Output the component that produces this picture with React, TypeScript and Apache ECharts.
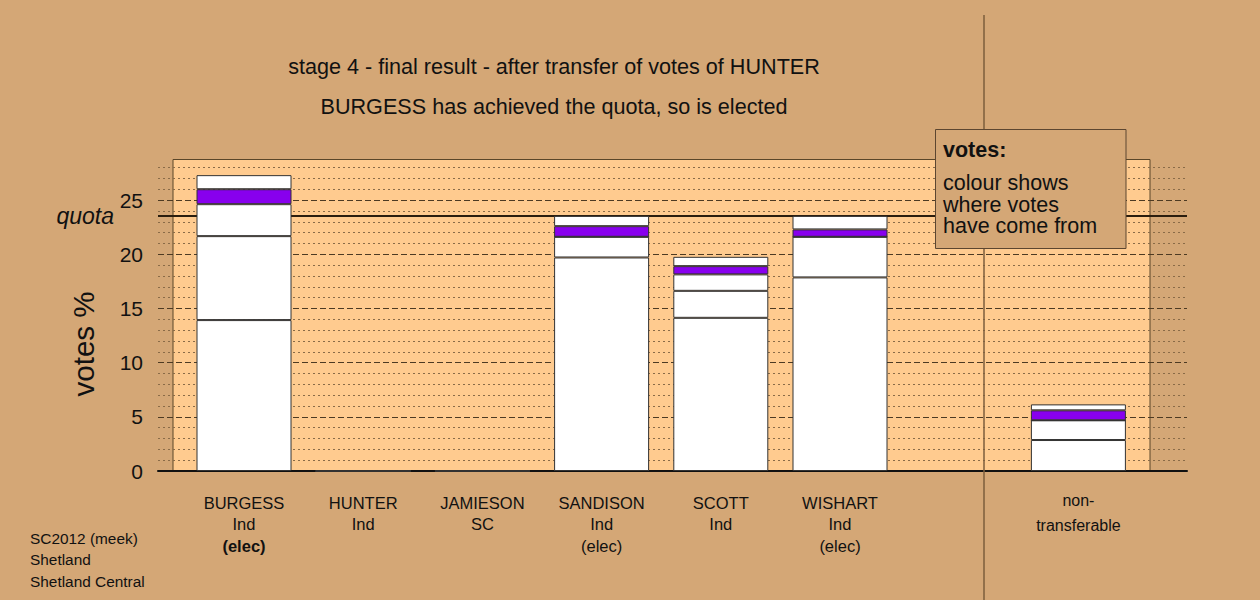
import React, { useEffect, useRef } from 'react';
import * as echarts from 'echarts';

const FONT = '"Liberation Sans", Arial, Helvetica, sans-serif';

// ---- data ----
const candidates = ['BURGESS', 'HUNTER', 'JAMIESON', 'SANDISON', 'SCOTT', 'WISHART', '', 'non-transferable'];
const parties = ['Ind', 'Ind', 'SC', 'Ind', 'Ind', 'Ind', '', ''];
const status = ['(elec)', '', '', '(elec)', '', '(elec)', '', ''];
const electedThisStage = 'BURGESS';

// stacked vote shares (% of votes), bottom to top
const layer1 = [13.93, 0, 0, 19.71, 14.14, 17.87, null, 2.86];
const layer2 = [7.75, 0, 0, 1.91, 2.49, 3.75, null, 1.82];
const layer3 = [2.95, 0, 0, 0, 1.52, 0, null, 0];
const fromHunter = [1.38, 0, 0, 0.98, 0.76, 0.68, null, 0.92];
const layer5 = [1.3, 0, 0, 0.95, 0.86, 1.25, null, 0.55];

const quota = 23.55;
const yMax = 28.8;
const majorTicks = [5, 10, 15, 20, 25];
const minorTicks = [1, 2, 3, 4, 6, 7, 8, 9, 11, 12, 13, 14, 16, 17, 18, 19, 21, 22, 23, 24, 26, 27, 28];

const titleLines = [
  'stage 4 - final result - after transfer of votes of HUNTER',
  'BURGESS has achieved the quota, so is elected',
];
const legendTitle = 'votes:';
const legendLines = ['colour shows', 'where votes', 'have come from'];
const footerLines = ['SC2012 (meek)', 'Shetland', 'Shetland Central'];

const BG = '#D4A776';
const BOX = '#FFCB8F';
const PURPLE = '#8800EE';
const BORDER = '#333333';

function catLabel(value: string, index: number) {
  const name = candidates[index];
  if (name === 'non-transferable') return '{nt1|non-}\n{nt2|transferable}';
  if (!name) return '';
  const lines = [`{n|${name}}`, `{n|${parties[index]}}`];
  if (status[index]) lines.push(`{${name === electedThisStage ? 'b' : 'n'}|${status[index]}}`);
  return lines.join('\n');
}

function barSeries(data: (number | null)[], color: string, name: string) {
  return {
    type: 'bar',
    name,
    stack: 'votes',
    xAxisIndex: 1,
    yAxisIndex: 1,
    barWidth: 95,
    z: 4,
    data,
    itemStyle: { color, borderColor: BORDER, borderWidth: 1 },
    emphasis: { disabled: true },
  };
}

export default function App() {
  const ref = useRef<HTMLDivElement>(null);
  useEffect(() => {
    const chart = echarts.init(ref.current!, null, { renderer: 'svg' });
    const option: any = {
      animation: false,
      backgroundColor: BG,
      textStyle: { fontFamily: FONT },
      grid: [
        { left: 158, right: 73, top: 159, bottom: 129 },
        { left: 184.4, right: 122, top: 159, bottom: 129 },
      ],
      xAxis: [
        {
          type: 'value', gridIndex: 0, min: 0, max: 1,
          axisLine: { show: true, lineStyle: { color: '#111', width: 2 } },
          axisTick: { show: false }, axisLabel: { show: false }, splitLine: { show: false },
        },
        {
          type: 'category', gridIndex: 1, data: candidates,
          axisLine: { show: false }, axisTick: { show: false }, splitLine: { show: false },
          axisLabel: {
            interval: 0, margin: 21, color: '#111', fontFamily: FONT,
            formatter: catLabel,
            rich: {
              n: { fontSize: 16.5, lineHeight: 21.5, color: '#111', fontFamily: FONT },
              b: { fontSize: 16.5, lineHeight: 21.5, color: '#111', fontWeight: 'bold', fontFamily: FONT },
              nt1: { fontSize: 16, lineHeight: 17, color: '#111', fontFamily: FONT },
              nt2: { fontSize: 16, lineHeight: 32, color: '#111', fontFamily: FONT },
            },
          },
        },
      ],
      yAxis: [
        {
          type: 'value', gridIndex: 0, min: 0, max: yMax, interval: 5,
          axisLine: { show: false }, axisTick: { show: false }, splitLine: { show: false },
          axisLabel: {
            margin: 15, fontSize: 21, color: '#111', fontFamily: FONT,
            formatter: (v: number) => (Math.abs(v % 5) < 1e-9 ? String(v) : ''),
          },
        },
        {
          type: 'value', gridIndex: 1, min: 0, max: yMax, show: false,
        },
      ],
      series: [
        {
          type: 'line', xAxisIndex: 0, yAxisIndex: 0, data: [], z: 1, silent: true,
          markLine: {
            z: 1,
            silent: true, symbol: ['none', 'none'], animation: false,
            label: { show: false },
            data: [
              ...minorTicks.map((v) => ({
                yAxis: v,
                lineStyle: { color: '#8a6b47', type: [2, 3], width: 1 },
              })),
              ...majorTicks.map((v) => ({
                yAxis: v,
                lineStyle: { color: '#4d3a22', type: [6, 3], width: 1 },
              })),
              {
                yAxis: quota,
                lineStyle: { color: '#2a1d0e', type: 'solid', width: 2 },
                label: {
                  show: true, position: 'start', formatter: 'quota', distance: 44,
                  fontStyle: 'italic', fontSize: 23, color: '#111', fontFamily: FONT,
                },
              },
            ],
          },
        },
        barSeries(layer1, '#FFFFFF', 'layer1'),
        barSeries(layer2, '#FFFFFF', 'layer2'),
        barSeries(layer3, '#FFFFFF', 'layer3'),
        barSeries(fromHunter, PURPLE, 'HUNTER'),
        barSeries(layer5, '#FFFFFF', 'layer5'),
      ],
      graphic: [
        {
          type: 'rect', z: 0, silent: true,
          shape: { x: 173, y: 159.5, width: 977, height: 311.5 },
          style: { fill: BOX, stroke: '#5a4628', lineWidth: 1 },
        },
        {
          type: 'line', z: 6, silent: true,
          shape: { x1: 984, y1: 15, x2: 984, y2: 600 },
          style: { stroke: '#7d5e3c', lineWidth: 1.5 },
        },
        {
          type: 'rect', z: 10, silent: true,
          shape: { x: 935.5, y: 129.5, width: 190.5, height: 119 },
          style: { fill: BG, stroke: '#5c4630', lineWidth: 1 },
        },
        {
          type: 'text', z: 11, silent: true, x: 943, y: 150,
          style: { text: legendTitle, font: `bold 21.5px ${FONT}`, fill: '#111', verticalAlign: 'middle' },
        },
        ...legendLines.map((t, i) => ({
          type: 'text', z: 11, silent: true, x: 943, y: 183 + i * 21.5,
          style: { text: t, font: `21.5px ${FONT}`, fill: '#111', verticalAlign: 'middle' },
        })),
        ...titleLines.map((t, i) => ({
          type: 'text', z: 11, silent: true, x: 554, y: 66 + i * 40,
          style: { text: t, font: `21.6px ${FONT}`, fill: '#111', align: 'center', verticalAlign: 'middle' },
        })),
        {
          type: 'text', z: 11, silent: true, x: 83, y: 344, rotation: Math.PI / 2,
          style: { text: 'votes %', font: `29.5px ${FONT}`, fill: '#111', align: 'center', verticalAlign: 'middle' },
        },
        ...footerLines.map((t, i) => ({
          type: 'text', z: 11, silent: true, x: 30, y: 538 + i * 21.5,
          style: { text: t, font: `15.4px ${FONT}`, fill: '#111', verticalAlign: 'middle' },
        })),
      ],
    };
    chart.setOption(option);
    return () => chart.dispose();
  }, []);
  return <div ref={ref} style={{ position: 'fixed', left: 0, top: 0, width: 1260, height: 600 }} />;
}
